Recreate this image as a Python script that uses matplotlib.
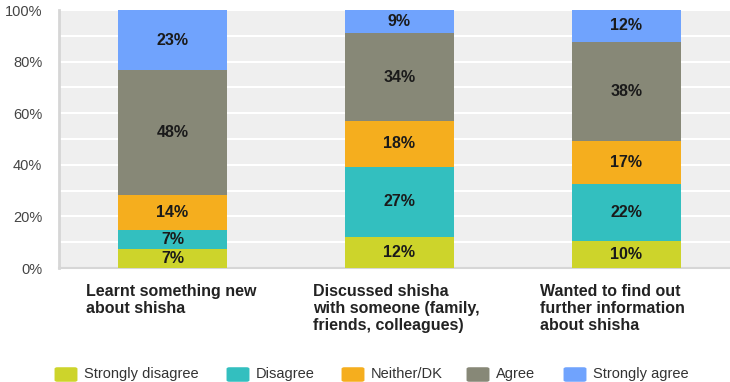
import matplotlib
matplotlib.use("Agg")
import matplotlib.pyplot as plt
from matplotlib.patches import FancyBboxPatch
import numpy as np

plt.rcParams['font.family'] = ['Liberation Sans', 'DejaVu Sans']

categories = [
    "Learnt something new\nabout shisha",
    "Discussed shisha\nwith someone (family,\nfriends, colleagues)",
    "Wanted to find out\nfurther information\nabout shisha",
]
responses = ["Strongly disagree", "Disagree", "Neither/DK", "Agree", "Strongly agree"]

strongly_disagree = [7.4, 12.0, 10.4]
disagree = [7.2, 27.2, 22.2]
neither = [13.7, 17.8, 16.8]
agree = [48.3, 34.0, 38.3]
strongly_agree = [23.4, 9.0, 12.3]

colors = ["#cdd42b", "#33bfbf", "#f5ae1e", "#878877", "#70a3fd"]

W, H = 730, 382
fig = plt.figure(figsize=(W / 100, H / 100), dpi=100)
ax = fig.add_axes([59 / W, 1 - 268 / H, 1 - 59 / W, 258 / H])
ax.set_facecolor("#efefef")

x = np.arange(len(categories))
bottom = np.zeros(len(categories))
series = [strongly_disagree, disagree, neither, agree, strongly_agree]
for vals, col, name in zip(series, colors, responses):
    vals = np.array(vals)
    ax.bar(x, vals, 0.48, bottom=bottom, color=col, label=name, zorder=3)
    for xi, b, v in zip(x, bottom, vals):
        ax.text(xi, b + v / 2, f"{v:.0f}%", ha="center", va="center",
                fontsize=11.5, fontweight="bold", color="#1a1a1a", zorder=4)
    bottom += vals

ax.set_xlim(-0.5, 2.456)
ax.set_ylim(0, 100)
ax.set_yticks(np.arange(0, 101, 20))
ax.set_yticklabels([f"{t}%" for t in range(0, 101, 20)], fontsize=10.5, color="#444444")
ax.set_yticks(np.arange(0, 101, 10), minor=True)
ax.grid(axis="y", which="both", color="white", linewidth=1.5, zorder=1)
ax.tick_params(axis="y", which="both", length=0, pad=12)
ax.set_xticks([])
for side in ["top", "right"]:
    ax.spines[side].set_visible(False)
ax.spines["left"].set_color("#d6d6d6")
ax.spines["left"].set_linewidth(2)
ax.spines["bottom"].set_color("#d6d6d6")
ax.spines["bottom"].set_linewidth(1.5)

# category labels, left-aligned under each bar
for xi, cat in zip(x, categories):
    ax.text(xi - 0.38, -6.3, cat, ha="left", va="top", fontsize=11.5,
            fontweight="bold", color="#222222", linespacing=1.15,
            clip_on=False)

# legend row drawn by hand (pixel positions along the bottom edge)
patch_x = [56, 228, 343, 468, 565]
for px, col, name in zip(patch_x, colors, responses):
    fig.patches.append(FancyBboxPatch(
        (px / W, 1 - 381 / H), 20 / W, 13 / H,
        boxstyle="round,pad=0.002,rounding_size=0.004",
        transform=fig.transFigure, facecolor=col, edgecolor="none"))
    fig.text((px + 28) / W, 1 - 374 / H, name, ha="left", va="center",
             fontsize=10.5, color="#333333")

fig.savefig("out.png", dpi=100)
